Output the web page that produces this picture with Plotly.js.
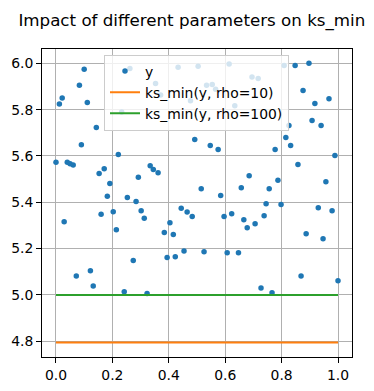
<!DOCTYPE html>
<html>
<head>
<meta charset="utf-8">
<script src="https://cdn.plot.ly/plotly-3.0.1.min.js"></script>
<style>html,body{margin:0;padding:0;background:#fff;}#chart{width:374px;height:391px;}</style>
</head>
<body>
<div id="chart"></div>
<script>
// Scatter sample points (x, y)
const xPts = [0.000,0.012,0.022,0.029,0.040,0.050,0.061,0.072,0.083,0.090,
              0.100,0.111,0.122,0.132,0.143,0.153,0.160,0.171,0.182,0.191,
              0.203,0.214,0.221,0.233,0.242,0.253,0.262,0.274,0.284,0.292,
              0.302,0.313,0.323,0.334,0.345,0.353,0.362,0.371,0.384,0.394,
              0.404,0.416,0.423,0.433,0.444,0.454,0.465,0.477,0.483,0.492,
              0.504,0.515,0.525,0.534,0.547,0.554,0.566,0.575,0.584,0.596,
              0.607,0.614,0.623,0.634,0.647,0.657,0.666,0.678,0.685,0.695,
              0.706,0.717,0.727,0.738,0.745,0.756,0.766,0.777,0.787,0.798,
              0.809,0.815,0.826,0.832,0.848,0.858,0.869,0.876,0.887,0.897,
              0.908,0.918,0.930,0.940,0.947,0.957,0.968,0.979,0.989,1.000];
const yPts = [5.573,5.824,5.850,5.316,5.573,5.567,5.561,5.082,5.906,5.649,
              5.975,5.831,5.104,5.039,5.723,5.524,5.348,5.545,5.426,5.481,
              5.359,5.282,5.606,5.790,5.014,5.421,5.978,5.149,5.403,5.508,
              5.364,5.331,5.006,5.558,5.542,5.913,5.528,5.863,5.270,5.162,
              5.312,5.261,5.165,5.983,5.374,5.190,5.358,5.838,5.339,5.671,
              5.988,5.459,5.186,5.906,5.645,5.909,5.888,5.628,5.429,5.339,
              5.182,5.997,5.351,5.817,5.182,5.463,5.325,5.290,5.515,5.941,
              5.307,5.935,5.030,5.342,5.394,5.459,5.009,5.628,5.495,5.390,
              5.991,5.680,5.732,5.645,5.991,5.563,5.082,5.883,5.264,6.000,
              5.753,5.827,5.377,5.732,5.243,5.489,5.847,5.364,5.602,5.061];
// ks_min lines
const xLine = [0.0, 1.0];
const ksRho10 = [4.795, 4.795];
const ksRho100 = [5.0, 5.0];
const seriesNames = ["y", "ks_min(y, rho=10)", "ks_min(y, rho=100)"];
const tickVals = [0.0, 0.2, 0.4, 0.6, 0.8, 1.0];
const yTickVals = [4.8, 5.0, 5.2, 5.4, 5.6, 5.8, 6.0];

const FONT = "DejaVu Sans, sans-serif";
const traces = [
  {x: xPts, y: yPts, mode: "markers", type: "scatter", name: seriesNames[0],
   marker: {color: "#1f77b4", size: 5.5}},
  {x: xLine, y: ksRho10, mode: "lines", type: "scatter", name: seriesNames[1],
   line: {color: "#ff7f0e", width: 2}},
  {x: xLine, y: ksRho100, mode: "lines", type: "scatter", name: seriesNames[2],
   line: {color: "#2ca02c", width: 2}}
];
const axisCommon = {
  showline: true, mirror: true, linecolor: "#000", linewidth: 1,
  ticks: "outside", ticklen: 5, tickwidth: 1, tickcolor: "#000",
  showgrid: true, gridcolor: "#b0b0b0", gridwidth: 1,
  zeroline: false, tickfont: {family: FONT, size: 13.9, color: "#000"},
  tickformat: ".1f"
};
const layout = {
  width: 374, height: 391,
  margin: {l: 42, r: 22, t: 49, b: 34},
  paper_bgcolor: "#fff", plot_bgcolor: "#fff",
  title: {text: "Impact of different parameters on ks_min",
          font: {family: FONT, size: 16.7, color: "#000"},
          xref: "container", x: 0.513, xanchor: "center",
          yref: "container", y: 0.949, yanchor: "middle"},
  xaxis: Object.assign({}, axisCommon, {range: [-0.0496, 1.0496], tickvals: tickVals}),
  yaxis: Object.assign({}, axisCommon, {range: [4.732, 6.062], tickvals: yTickVals}),
  showlegend: true,
  legend: {x: 0.2, y: 0.982, xanchor: "left", yanchor: "top",
           bgcolor: "rgba(255,255,255,0.8)", bordercolor: "#cccccc", borderwidth: 1,
           font: {family: FONT, size: 13.9, color: "#000"}, tracegroupgap: 0}
};
Plotly.newPlot("chart", traces, layout, {displayModeBar: false, staticPlot: true});
</script>
</body>
</html>
